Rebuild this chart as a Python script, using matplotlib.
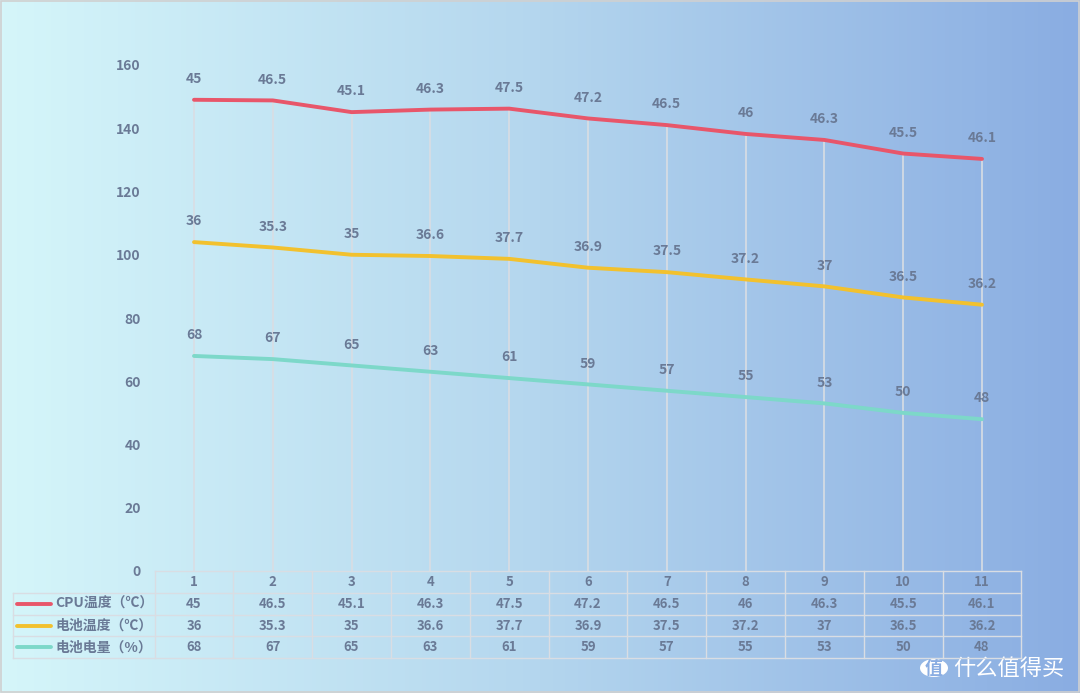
import numpy as np
import matplotlib.pyplot as plt
from matplotlib.colors import LinearSegmentedColormap
from matplotlib.transforms import blended_transform_factory
from matplotlib.patches import Circle

plt.rcParams['font.family'] = ['Noto Sans CJK SC', 'DejaVu Sans']

# data (stacked line chart, Excel style)
categories = ['1', '2', '3', '4', '5', '6', '7', '8', '9', '10', '11']
cpu_temp = [45, 46.5, 45.1, 46.3, 47.5, 47.2, 46.5, 46, 46.3, 45.5, 46.1]
bat_temp = [36, 35.3, 35, 36.6, 37.7, 36.9, 37.5, 37.2, 37, 36.5, 36.2]
bat_level = [68, 67, 65, 63, 61, 59, 57, 55, 53, 50, 48]
series_names = ['CPU温度（℃）', '电池温度（℃）', '电池电量（%）']
yticks = [0, 20, 40, 60, 80, 100, 120, 140, 160]

colors = ['#e8566a', '#f2c12e', '#7dd8c9']
txt_color = '#6a7a96'
grid_color = '#d9dde3'

W, H = 1080, 693
fig = plt.figure(figsize=(W / 100, H / 100), dpi=100)

# gradient background
bg = fig.add_axes([0, 0, 1, 1], zorder=-10)
cmap = LinearSegmentedColormap.from_list('bg', ['#d5f6fa', '#b4d6ee', '#8aade2'])
grad = np.linspace(0, 1, 256).reshape(1, -1)
bg.imshow(grad, cmap=cmap, aspect='auto', extent=[0, 1, 0, 1])
bg.set_xlim(0, 1)
bg.set_ylim(0, 1)
bg.axis('off')
bg.add_patch(plt.Rectangle((0.001, 0.001), 0.998, 0.997, fill=False,
                           edgecolor='#d0d0d0', linewidth=1.2))

# plot area
x_left, x_right = 154.6, 1021.4
y_bottom, y_top = 571, 65
ax = fig.add_axes([x_left / W, (H - y_bottom) / H, (x_right - x_left) / W,
                   (y_bottom - y_top) / H])
ax.set_facecolor('none')
x = np.arange(len(categories))
ax.set_xlim(-0.5, len(categories) - 0.5)
ax.set_ylim(0, 160)
for s in ax.spines.values():
    s.set_visible(False)
ax.set_xticks([])
ax.set_yticks(yticks)
ax.tick_params(axis='y', length=0, pad=10, labelsize=10, labelcolor=txt_color)
for lab in ax.get_yticklabels():
    lab.set_fontweight('bold')

# stacked values
s1 = np.array(bat_level, dtype=float)
s2 = s1 + np.array(bat_temp)
s3 = s2 + np.array(cpu_temp)
stacks = [s3, s2, s1]
raw = [cpu_temp, bat_temp, bat_level]

# drop lines
ax.vlines(x, 0, s3, color=grid_color, linewidth=1.2, zorder=1)

for ys, vals, c in zip(stacks, raw, colors):
    ax.plot(x, ys, color=c, linewidth=2.8, zorder=3, solid_capstyle='round')
    for xi, yi, v in zip(x, ys, vals):
        ax.annotate(f'{v:g}', (xi, yi), xytext=(0, 15), textcoords='offset points',
                    ha='center', va='center', fontsize=10, color=txt_color,
                    fontweight='bold', zorder=4)

# data table below the axis
tr = blended_transform_factory(ax.transData, ax.transAxes)
row_h = 21.8 / (y_bottom - y_top)
n = len(categories)
# header row
for i, c in enumerate(categories):
    ax.text(i, -row_h * 0.5, c, transform=tr, ha='center', va='center',
            fontsize=9.5, color=txt_color, fontweight='bold', clip_on=False)
for r, vals in enumerate(raw):
    yc = -row_h * (r + 1.5)
    for i, v in enumerate(vals):
        ax.text(i, yc, f'{v:g}', transform=tr, ha='center', va='center',
                fontsize=9.5, color=txt_color, fontweight='bold', clip_on=False)

# table grid lines
lw = 1.0
for k in range(n + 1):
    ax.plot([k - 0.5, k - 0.5], [0, -row_h * 4], transform=tr, color=grid_color,
            linewidth=lw, clip_on=False)
# legend column (in figure pixels converted to data x)
inv = ax.transData.inverted()
leg_left = inv.transform(fig.transFigure.transform((13 / W, 0)))[0]
ax.plot([-0.5, n - 0.5], [0, 0], transform=tr, color=grid_color, linewidth=lw, clip_on=False)
for r in range(1, 5):
    ax.plot([leg_left, n - 0.5], [-row_h * r] * 2, transform=tr, color=grid_color,
            linewidth=lw, clip_on=False)
ax.plot([leg_left, leg_left], [-row_h, -row_h * 4], transform=tr, color=grid_color,
        linewidth=lw, clip_on=False)

# legend keys and names
key_a = inv.transform(fig.transFigure.transform((17 / W, 0)))[0]
key_b = inv.transform(fig.transFigure.transform((51 / W, 0)))[0]
txt_x = inv.transform(fig.transFigure.transform((55 / W, 0)))[0]
for r, (name, c) in enumerate(zip(series_names, colors)):
    yc = -row_h * (r + 1.5)
    ax.plot([key_a, key_b], [yc, yc], transform=tr, color=c, linewidth=2.8,
            clip_on=False, solid_capstyle='round')
    ax.text(txt_x, yc, name, transform=tr, ha='left', va='center', fontsize=10,
            color=txt_color, fontweight='bold', clip_on=False)

# watermark
wy = 1 - 668 / H
bg.add_patch(Circle((934 / W, wy), 14 / W, transform=bg.transAxes,
                    facecolor='white', edgecolor='none'))
bg.text(934 / W, wy, '值', transform=bg.transAxes, ha='center', va='center',
        fontsize=13, color='#8aade2', fontweight='bold')
bg.text(953 / W, wy, '什么值得买', transform=bg.transAxes, ha='left',
        va='center', fontsize=16, color='white')

fig.savefig('out.png', dpi=100)
